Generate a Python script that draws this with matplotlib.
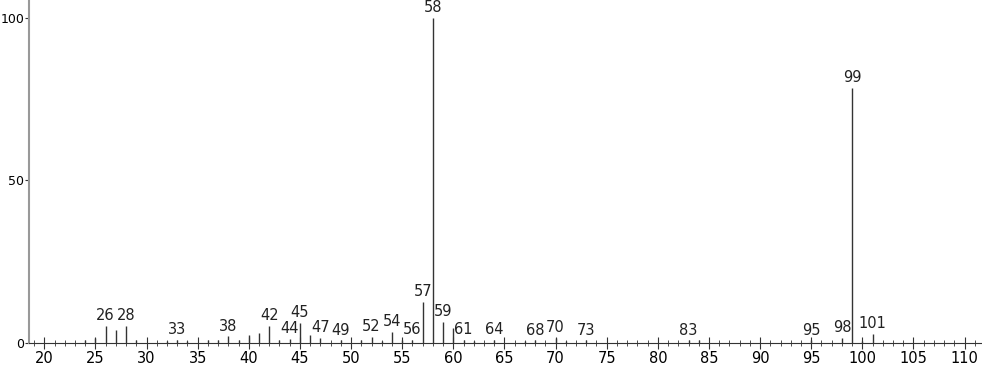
"""Mass spectrum stick plot."""

import matplotlib

matplotlib.use("Agg")
import matplotlib.pyplot as plt
from matplotlib.ticker import MultipleLocator

# m/z values and relative intensities
MZ = [24, 25, 26, 27, 28, 29, 32, 33, 34, 36, 37, 38, 39, 40, 41, 42, 43, 44,
      45, 46, 47, 49, 51, 52, 53, 54, 55, 56, 57, 58, 59, 60, 61, 62, 64, 67,
      68, 70, 71, 73, 83, 84, 95, 98, 99, 100, 101]
INTENSITY = [1.0, 1.5, 5.2, 4.0, 5.3, 1.0, 0.5, 1.0, 0.5, 0.8, 1.0, 2.0, 0.8,
             2.5, 3.0, 5.2, 1.0, 1.2, 6.2, 2.5, 1.5, 0.8, 0.8, 1.8, 0.5, 3.5,
             0.8, 1.0, 12.6, 100.0, 6.5, 4.6, 1.0, 0.5, 1.0, 0.5, 0.8, 1.5,
             0.5, 0.8, 0.8, 0.8, 0.8, 1.5, 78.5, 0.5, 2.8]
LABELLED = [26, 28, 33, 38, 42, 44, 45, 47, 49, 52, 54, 56, 57, 58, 59, 61,
            64, 68, 70, 73, 83, 95, 98, 99, 101]

fig = plt.figure(figsize=(9.82, 3.65), dpi=100)
ax = fig.add_axes([0.0295, 0.0603, 0.9705, 0.9397])

ax.vlines(MZ, 0, INTENSITY, color="#333333", linewidth=1.0)

lookup = dict(zip(MZ, INTENSITY))
for mz in LABELLED:
    ax.annotate(
        str(mz),
        (mz, lookup[mz]),
        xytext=(0, 2),
        textcoords="offset points",
        ha="center",
        va="bottom",
        fontsize=10.5,
        color="#222222",
    )

ax.set_xlim(18.5, 111.7)
ax.set_ylim(0, 105.5)
ax.xaxis.set_major_locator(MultipleLocator(5))
ax.xaxis.set_minor_locator(MultipleLocator(1))
ax.set_yticks([0, 50, 100])

for side in ["top", "right"]:
    ax.spines[side].set_visible(False)
ax.spines["left"].set_color("#999999")
ax.spines["left"].set_linewidth(1.5)
ax.spines["bottom"].set_color("#333333")

ax.tick_params(axis="x", which="major", direction="inout", length=8,
               labelsize=10.5, pad=2, color="#333333")
ax.tick_params(axis="x", which="minor", direction="inout", length=4,
               color="#333333")
ax.tick_params(axis="y", direction="out", length=3, labelsize=9, pad=0.5,
               color="#333333")

fig.savefig("out.png", dpi=100)
